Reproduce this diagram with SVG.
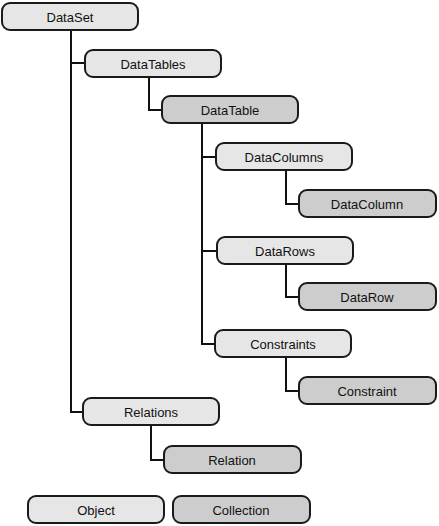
<svg xmlns="http://www.w3.org/2000/svg" width="439" height="526" viewBox="0 0 439 526">
<style>
.b{stroke:#1a1a1a;stroke-width:2}
.o{fill:#e6e6e6}
.c{fill:#cdcdcd}
text{font-family:"Liberation Sans",Arial,sans-serif;font-size:13px;fill:#111;text-anchor:middle;dominant-baseline:central}
.l{fill:none;stroke:#111;stroke-width:2}
</style>
<rect width="439" height="526" fill="#fff"/>
<g id="connectors" class="l">
<path d="M71 30V412H83"/>
<path d="M71 63H85"/>
<path d="M149 77V110H162"/>
<path d="M202 123V344H215"/>
<path d="M202 157H216"/>
<path d="M202 251H217"/>
<path d="M286 170V204H299"/>
<path d="M286 264V297H299"/>
<path d="M286 357V391H299"/>
<path d="M151 425V460H164"/>
</g>
<g id="DataSet"><rect class="b o" x="2" y="3" width="136" height="27" rx="8"/><text x="70" y="17">DataSet</text></g>
<g id="DataTables"><rect class="b o" x="85" y="50" width="136" height="27" rx="8"/><text x="153" y="64">DataTables</text></g>
<g id="DataTable"><rect class="b c" x="162" y="96" width="136" height="27" rx="8"/><text x="230" y="110">DataTable</text></g>
<g id="DataColumns"><rect class="b o" x="216" y="143" width="136" height="27" rx="8"/><text x="284" y="157">DataColumns</text></g>
<g id="DataColumn"><rect class="b c" x="299" y="190" width="137" height="27" rx="8"/><text x="367" y="204">DataColumn</text></g>
<g id="DataRows"><rect class="b o" x="217" y="237" width="136" height="27" rx="8"/><text x="285" y="251">DataRows</text></g>
<g id="DataRow"><rect class="b c" x="299" y="283" width="137" height="27" rx="8"/><text x="367" y="297">DataRow</text></g>
<g id="Constraints"><rect class="b o" x="215" y="330" width="136" height="27" rx="8"/><text x="283" y="344">Constraints</text></g>
<g id="Constraint"><rect class="b c" x="299" y="377" width="137" height="27" rx="8"/><text x="367" y="391">Constraint</text></g>
<g id="Relations"><rect class="b o" x="83" y="398" width="136" height="27" rx="8"/><text x="151" y="412">Relations</text></g>
<g id="Relation"><rect class="b c" x="164" y="446" width="137" height="27" rx="8"/><text x="232" y="460">Relation</text></g>
<g id="Object"><rect class="b o" x="28" y="496" width="136" height="27" rx="8"/><text x="96" y="510">Object</text></g>
<g id="Collection"><rect class="b c" x="173" y="496" width="137" height="27" rx="8"/><text x="241" y="510">Collection</text></g>
</svg>
